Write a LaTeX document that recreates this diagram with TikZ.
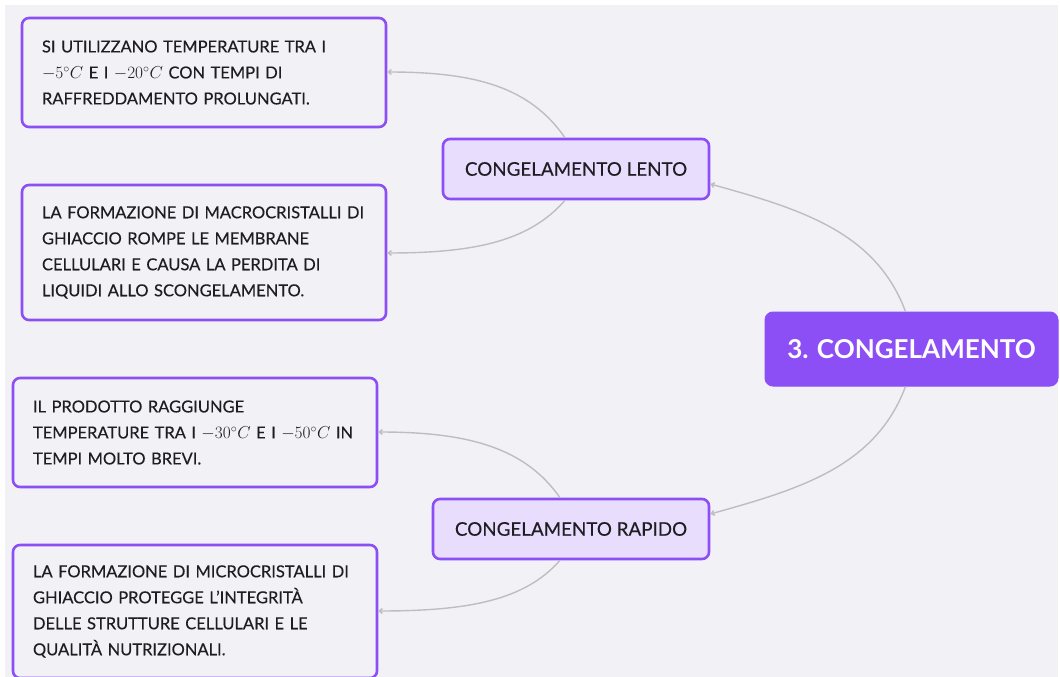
\documentclass[tikz,border=0pt]{standalone}
\usepackage{fontspec}
\setmainfont{Lato}
\newfontfamily\mediumfont[FakeBold=0.35,Ligatures=TeX]{Lato}
\usetikzlibrary{arrows.meta}
\definecolor{pageback}{HTML}{F2F1F6}
\definecolor{mindpurple}{HTML}{8C4FF5}
\definecolor{branchfill}{HTML}{E8DDFC}
\definecolor{linkgray}{HTML}{BEBDC0}
\definecolor{inktext}{HTML}{1E1E22}
\tikzset{
  leafbox/.style={draw=mindpurple, line width=2.6pt, rounded corners=7pt, fill=pageback,
    text=inktext, font=\mediumfont\fontsize{16.5}{26}\selectfont, align=left,
    inner xsep=20pt, text width=324pt, minimum width=364pt},
  branchbox/.style={draw=mindpurple, line width=2.6pt, rounded corners=7pt, fill=branchfill,
    text=inktext, font=\mediumfont\fontsize{18.8}{22}\selectfont, minimum height=60pt},
  rootbox/.style={draw=mindpurple, line width=1pt, rounded corners=8pt, fill=mindpurple,
    text=white, font=\bfseries\fontsize{26}{30}\selectfont, minimum width=293pt, minimum height=74pt},
  link/.style={draw=linkgray, line width=1.4pt, -{Straight Barb[length=3pt,width=5pt]}}
}
\begin{document}
\begin{tikzpicture}[x=1pt,y=-1pt]
  \useasboundingbox (0,0) rectangle (1060,677);
  \fill[white] (0,0) rectangle (1060,677);
  \fill[pageback] (5,5) rectangle (1058,677);

  % central topic
  \node[rootbox] (root) at (911.5,349) {3. CONGELAMENTO};

  % the two kinds of freezing
  \node[branchbox, minimum width=266pt] (slow) at (576,169) {CONGELAMENTO LENTO};
  \node[branchbox, minimum width=276pt] (fast) at (571,529) {CONGELAMENTO RAPIDO};

  % details
  \node[leafbox, minimum height=109pt] (s1) at (204,72.5)
    {SI UTILIZZANO TEMPERATURE TRA I\\ $-5^{\circ}C$ E I $-20^{\circ}C$ CON TEMPI DI\\ RAFFREDDAMENTO PROLUNGATI.};
  \node[leafbox, minimum height=135pt] (s2) at (204,252.5)
    {LA FORMAZIONE DI MACROCRISTALLI DI\\ GHIACCIO ROMPE LE MEMBRANE\\ CELLULARI E CAUSA LA PERDITA DI\\ LIQUIDI ALLO SCONGELAMENTO.};
  \node[leafbox, minimum height=109pt] (f1) at (195,432.5)
    {IL PRODOTTO RAGGIUNGE\\ TEMPERATURE TRA I $-30^{\circ}C$ E I $-50^{\circ}C$ IN\\ TEMPI MOLTO BREVI.};
  \node[leafbox, minimum height=133pt] (f2) at (195,611.5)
    {LA FORMAZIONE DI MICROCRISTALLI DI\\ GHIACCIO PROTEGGE L’INTEGRITÀ\\ DELLE STRUTTURE CELLULARI E LE\\ QUALITÀ NUTRIZIONALI.};

  % connectors
  \draw[link] ([xshift=-6pt]root.north) .. controls +(-30,-80) and +(90,25) .. ([yshift=-15pt]slow.east);
  \draw[link] ([xshift=-6pt]root.south) .. controls +(-30,80) and +(90,-25) .. ([yshift=15pt]fast.east);
  \draw[link] ([xshift=-11pt]slow.north) .. controls +(-35,-50) and +(90,0) .. ([yshift=0.5pt]s1.east);
  \draw[link] ([xshift=-11pt]slow.south) .. controls +(-35,40) and +(90,0) .. ([yshift=-0.5pt]s2.east);
  \draw[link] ([xshift=-11pt]fast.north) .. controls +(-35,-50) and +(90,0) .. ([yshift=0.5pt]f1.east);
  \draw[link] ([xshift=-11pt]fast.south) .. controls +(-35,40) and +(90,0) .. ([yshift=0.5pt]f2.east);
\end{tikzpicture}
\end{document}
